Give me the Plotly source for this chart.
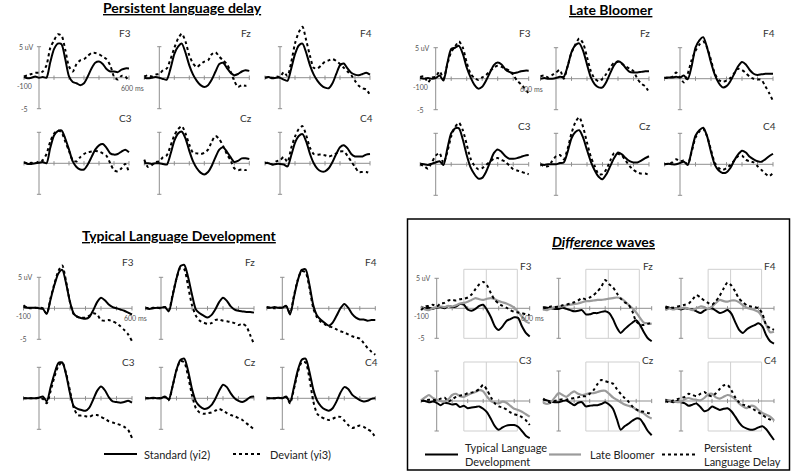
import plotly.graph_objects as go

W, H = 791, 472

# time grid in ms and electrode layout (2 rows x 3 cols)
TIME = list(range(-100, 601, 25))
ELECTRODES = ["F3", "Fz", "F4", "C3", "Cz", "C4"]

# Persistent language delay
pld_std = {
    "F3": [0.1, -0.1, 0.0, 0.2, 0.0, 0.1, 0.0, 2.5, 4.6, 5.5, 5.4, 3.0, 0.2, -0.7, -0.9, -1.2, -0.9, 0.2, 1.5, 2.4, 2.6, 2.2, 1.4, 1.0, 1.0, 0.9, 1.3, 1.5, 1.5],
    "Fz": [0, -0.1, 0, 0.1, 0, -0.2, -0.3, 1.5, 3.8, 5.0, 5.5, 4.0, 2.0, 0.5, -0.5, -1.2, -1.5, -1.2, -0.3, 1.0, 2.2, 2.4, 1.6, 0.8, 0.4, 0.6, 1.0, 1.2, 1.1],
    "F4": [0, 0.1, -0.1, 0, 0, -0.3, -0.5, 1.5, 3.8, 5.2, 5.5, 4.0, 2.0, 0.5, -0.5, -1.2, -1.6, -1.7, -0.9, 0.6, 2.0, 2.3, 1.5, 0.8, 0.5, 0.4, 0.6, 0.8, 0.5],
    "C3": [0.1, -0.1, -0.1, 0, 0.1, 0.2, 0, 2.5, 4.5, 5.2, 5.3, 4.0, 2.2, 0.3, -0.6, -1.0, -1.0, -0.2, 1.0, 2.2, 2.9, 3.1, 2.5, 1.6, 1.4, 1.5, 1.9, 2.2, 1.8],
    "Cz": [0, 0, -0.1, 0, 0, -0.1, -0.2, 1.5, 3.6, 4.8, 5.1, 4.0, 2.0, 0.3, -0.8, -1.5, -1.8, -1.4, -0.4, 1.0, 2.2, 2.6, 1.9, 1.0, 0.2, 0.4, 0.8, 0.8, 0.7],
    "C4": [0.1, 0, -0.2, -0.1, -0.1, -0.2, -0.5, 1.3, 3.3, 4.4, 4.7, 3.5, 1.5, 0, -0.9, -1.3, -1.3, -0.8, 0.2, 1.5, 2.6, 2.9, 2.4, 1.5, 1.1, 1.1, 1.1, 1.4, 1.5],
}
pld_dev = {
    "F3": [0.2, 0.4, 0.6, 0.8, 0.8, 1.0, 2.0, 4.8, 6.0, 7.0, 6.8, 4.5, 1.8, 1.0, 2.2, 2.8, 3.0, 3.5, 4.0, 4.0, 3.8, 3.4, 3.0, 2.0, 0.2, -0.3, 0.3, 0.2, -0.6],
    "Fz": [0.2, 0.4, 0.2, 0.5, 0.6, 1.2, 1.5, 3.0, 4.8, 6.3, 7.1, 5.8, 3.6, 2.3, 1.7, 2.2, 2.6, 2.8, 3.8, 4.1, 3.4, 2.8, 2.2, 1.0, -0.5, -1.5, -1.2, -1.3, -1.2],
    "F4": [0, 0.1, 0, 0.2, 0.1, 0.9, 0.3, 2.5, 5.5, 7.3, 8.2, 6.0, 3.5, 1.6, 1.5, 2.0, 2.6, 2.8, 3.0, 2.7, 2.2, 1.6, 1.0, 0.4, -0.5, -1.3, -1.7, -1.9, -2.8],
    "C3": [0.2, 0, 0.1, 0, 0.3, 0.5, 1.5, 3.5, 4.8, 5.3, 5.0, 3.5, 2.0, 0.5, 0.3, 1.0, 1.5, 1.8, 1.9, 2.0, 1.9, 1.6, 1.2, 0, -1.1, -1.3, -0.8, -0.1, -1.5],
    "Cz": [0.6, -0.6, -0.3, 0.2, 0.3, 1.0, 1.3, 2.8, 4.5, 5.5, 6.0, 4.8, 3.0, 1.7, 1.6, 1.5, 1.7, 2.2, 3.5, 4.4, 3.9, 2.8, 1.5, 0.5, -0.8, -1.1, -1.0, -1.1, -0.9],
    "C4": [0, 0.1, -0.2, 0.3, 0.5, 1.0, 0.2, 2.5, 4.3, 5.5, 6.0, 4.5, 2.5, 1.5, 1.4, 1.4, 1.3, 1.1, 1.3, 1.6, 1.9, 1.9, 1.2, 0.3, -0.6, -1.4, -1.4, -1.4, -1.6],
}

# Late bloomer
lb_std = {
    "F3": [0.1, 0, 0.1, 0, 0.1, 0.5, -0.3, 2.5, 4.8, 5.0, 5.3, 4.0, 1.8, 0.2, -1.0, -1.6, -1.3, -0.3, 1.0, 2.2, 2.6, 2.3, 1.5, 1.1, 0.9, 1.0, 1.2, 1.3, 1.3],
    "Fz": [0, 0.1, 0, 0, 0.1, 0.3, 0.3, 2.0, 4.3, 5.4, 5.7, 4.5, 2.3, 0.2, -0.9, -1.4, -1.4, -0.5, 0.9, 2.2, 2.8, 2.5, 1.7, 1.1, 1.0, 1.0, 1.1, 1.2, 1.2],
    "F4": [0.1, 0.2, 0.2, 0.3, 0.2, 0.5, -0.1, 2.0, 5.0, 6.2, 6.7, 5.0, 2.6, 0.6, -0.7, -1.4, -1.2, -0.4, 0.8, 2.0, 2.7, 2.3, 1.4, 0.8, 0.6, 0.7, 0.8, 0.8, 0.8],
    "C3": [0.1, 0, -0.1, 0.1, 0.3, 0.5, -0.1, 2.5, 5.0, 5.8, 5.8, 4.0, 1.5, -0.5, -1.6, -2.3, -2.2, -1.2, 0.3, 1.8, 2.4, 2.0, 1.3, 0.9, 0.9, 1.0, 1.2, 1.4, 1.5],
    "Cz": [0, -0.1, 0, 0, 0, 0.2, 0.3, 2.0, 4.2, 5.2, 5.5, 4.3, 2.3, 0.4, -1.0, -2.0, -2.4, -1.6, -0.3, 1.0, 1.9, 1.6, 1.0, 0.5, 0.3, 0.3, 0.6, 1.0, 1.3],
    "C4": [0, 0.1, 0, 0, 0.2, 0.4, -0.1, 2.2, 4.6, 5.5, 5.9, 4.5, 2.0, -0.1, -1.0, -1.4, -1.3, -0.6, 0.6, 1.6, 2.2, 1.9, 1.2, 0.8, 0.5, 0.4, 0.8, 1.3, 1.7],
}
lb_dev = {
    "F3": [0.3, 0.4, -0.6, 0.2, 0.3, 1.2, 0.0, 2.3, 4.3, 5.2, 6.0, 5.0, 2.6, 0.8, 0.1, -0.2, 0.2, 0.6, 1.2, 1.8, 2.1, 1.9, 1.6, 1.3, 0.6, -0.3, -0.9, -1.6, -2.4],
    "Fz": [0.4, 0.5, 0.2, 0.6, 1.0, 1.4, 0.0, 2.0, 4.2, 5.5, 6.5, 5.7, 3.5, 1.2, 0, -0.4, 0.0, 0.8, 1.8, 2.6, 2.7, 2.4, 2.0, 1.6, 1.2, 0.0, -0.8, -1.2, -2.2],
    "F4": [0.1, 0.2, 0.3, 1.0, 0.2, -0.6, 0.8, 3.0, 4.5, 5.5, 6.0, 5.0, 3.0, 0.8, -0.2, -0.5, -0.3, 0.1, 0.9, 1.6, 1.4, 0.9, 0.3, 0.0, -0.1, -0.2, -1.2, -2.3, -3.6],
    "C3": [0, -0.3, -0.7, 0.3, 1.4, 1.8, 0.2, 2.0, 4.5, 6.0, 6.7, 5.5, 3.2, 0.9, -0.2, -0.8, -0.6, -0.1, 0.4, 0.9, 1.0, 0.7, 0.4, -0.2, -0.8, -1.0, -1.2, -1.4, -1.6],
    "Cz": [0, -0.3, -0.3, 0.5, 1.3, 1.5, 0.8, 2.5, 5.0, 6.8, 7.6, 6.0, 3.5, 1.2, -0.3, -1.6, -1.6, -0.8, 0.6, 1.8, 1.7, 1.4, 0.6, -0.3, -0.9, -1.3, -1.5, -1.5, -1.7],
    "C4": [0, 0.1, 0.3, 0.8, 0.5, 0.6, 0.0, 2.0, 4.3, 5.3, 5.7, 4.5, 2.3, 0.2, -0.6, -0.9, -0.6, -0.1, 0.6, 1.3, 1.4, 0.7, 0.5, 0.3, -0.3, -0.9, -1.5, -1.9, -1.4],
}

# Typical language development
tld_std = {
    "F3": [0.2, 0.1, 0.1, 0.1, 0.0, -0.1, -0.9, 1.5, 3.8, 5.6, 6.2, 4.0, 1.0, -0.9, -1.4, -1.6, -1.7, -1.4, -0.3, 1.0, 1.7, 1.3, 0.6, 0.2, 0.0, -0.2, -0.4, -0.7, -1.0],
    "Fz": [0, -0.1, 0, 0.1, 0.1, 0.2, -0.5, 2.0, 4.8, 6.8, 7.0, 5.0, 2.2, -0.2, -0.8, -1.2, -1.5, -1.1, -0.2, 1.0, 1.7, 1.2, 0.3, -0.2, -0.4, -0.5, -0.6, -0.6, -0.7],
    "F4": [0.2, 0.1, 0.2, 0.1, 0.1, 0.4, -1.0, 1.8, 4.5, 6.2, 6.3, 3.8, 0.5, -1.2, -1.9, -2.4, -2.8, -2.3, -1.2, 0.0, 0.7, 0.1, -0.9, -1.5, -1.8, -1.8, -2.0, -1.9, -1.9],
    "C3": [0, 0, 0, 0, 0.1, 0.3, -0.5, 1.8, 4.0, 5.7, 5.8, 3.8, 0.8, -1.3, -1.7, -1.9, -2.0, -1.5, -0.2, 1.2, 1.9, 1.3, 0.2, -0.5, -0.6, -0.7, -0.6, -0.4, -0.7],
    "Cz": [0, 0, 0.1, 0, 0, 0.3, -0.2, 2.0, 4.6, 6.2, 6.4, 4.4, 1.5, -0.5, -1.3, -1.7, -1.6, -1.1, -0.1, 1.2, 2.2, 1.8, 0.8, 0.0, -0.4, -0.6, -0.3, 0.2, 0.3],
    "C4": [0, 0, 0, 0.1, 0, 0.3, -0.6, 1.8, 4.5, 6.2, 6.4, 4.3, 1.4, -0.4, -1.3, -1.8, -2.0, -1.6, -0.5, 0.9, 1.8, 1.5, 0.6, 0.1, -0.3, -0.5, -0.4, -0.1, 0.0],
}
tld_dev = {
    "F3": [0.5, 0.1, 0.0, 0.1, 0.1, 0.0, -0.9, 1.7, 4.0, 6.0, 6.9, 4.3, 1.0, -1.0, -1.4, -1.5, -1.5, -1.2, -0.8, -1.0, -1.9, -2.0, -1.9, -2.1, -2.4, -2.9, -3.5, -4.2, -5.3],
    "Fz": [0.1, 0, 0.1, 0.1, 0.0, 0.2, -0.3, 2.2, 4.8, 6.5, 6.3, 3.5, 0.5, -1.2, -2.0, -2.3, -2.5, -2.4, -1.9, -1.8, -2.0, -2.1, -2.2, -2.4, -2.7, -2.5, -2.9, -4.3, -5.8],
    "F4": [0.1, 0.1, 0.0, 0.1, 0.1, 0.3, -0.8, 2.0, 4.6, 6.0, 5.8, 3.3, 0.0, -1.5, -2.2, -2.6, -2.9, -3.1, -3.4, -3.7, -3.9, -4.2, -4.5, -4.7, -4.9, -5.6, -6.4, -7.0, -7.5],
    "C3": [0, 0, 0, 0, 0.1, -0.1, -0.8, 1.2, 3.5, 5.2, 5.8, 4.0, 1.2, -1.6, -2.7, -2.8, -2.9, -3.0, -2.7, -2.7, -3.0, -3.3, -3.7, -3.9, -4.1, -4.3, -4.6, -5.1, -6.4],
    "Cz": [0, 0, 0, 0, 0.1, 0.2, -0.3, 2.0, 4.5, 6.0, 5.8, 3.5, 0.5, -1.6, -2.3, -2.5, -2.4, -2.3, -2.0, -1.7, -2.0, -2.4, -2.7, -2.9, -3.2, -3.5, -4.0, -4.5, -5.0],
    "C4": [0, 0, 0, 0, 0.1, 0.2, -0.8, 1.5, 4.2, 5.8, 5.8, 3.2, -0.5, -2.5, -3.0, -3.3, -3.5, -3.3, -3.0, -3.0, -3.6, -4.3, -4.8, -4.6, -4.4, -4.6, -5.0, -5.4, -6.3],
}

# Difference waves (deviant - standard) per group
diff_tld = {
    "F3": [0.3, 0, 0.1, -0.1, 0.1, 0.2, 0.0, 0.4, 0.2, 0.3, 0.7, 0.6, -0.2, -0.4, -0.1, 0.4, 0.6, -0.3, -1.5, -3.0, -3.6, -3.0, -2.1, -1.8, -1.5, -1.6, -3.0, -4.1, -4.7],
    "Fz": [0.2, 0.1, 0.0, -0.1, -0.1, 0.1, -0.1, -0.3, -0.5, -0.4, -0.3, -1.0, -1.0, -0.8, -0.8, -0.6, -0.5, -0.8, -1.8, -3.2, -4.1, -3.5, -2.9, -2.4, -2.0, -2.8, -4.0, -5.0, -5.5],
    "F4": [0.3, 0.1, -0.1, 0.0, -0.2, 0.0, -0.1, -0.2, -0.5, -0.8, -0.4, -0.1, 0.0, -0.4, -0.8, -0.6, -0.3, -0.9, -2.3, -3.6, -4.1, -3.5, -3.1, -2.8, -2.5, -3.0, -4.5, -5.5, -5.9],
    "C3": [0.1, 0.0, -0.2, -0.1, -0.3, -0.7, -0.3, -0.4, -0.6, -0.5, -1.0, -0.8, -1.2, -1.1, -1.0, -0.9, -1.3, -1.9, -3.0, -4.2, -4.8, -4.4, -4.1, -4.0, -4.0, -4.3, -5.0, -5.8, -6.2],
    "Cz": [0.2, 0.1, -0.1, -0.2, -0.2, 0.0, 0.1, -0.3, -0.7, -0.3, -0.2, -0.9, -0.8, -0.7, -0.7, -0.5, -0.2, -0.6, -1.3, -3.0, -4.8, -4.2, -3.8, -3.3, -2.9, -3.0, -3.9, -5.0, -5.7],
    "C4": [0.2, 0.0, -0.2, 0.0, -0.2, -0.4, -0.8, -0.6, -0.4, -1.0, -1.7, -1.5, -0.9, -1.2, -1.5, -1.3, -1.2, -1.7, -2.6, -3.6, -4.3, -4.6, -4.8, -4.7, -4.4, -4.2, -4.7, -5.6, -6.5],
}
diff_lb = {
    "F3": [0.3, -0.2, -0.3, 0, 0.2, 0.3, 0.2, 0.4, 0.3, 0.5, 0.8, 0.9, 1.1, 1.4, 1.7, 1.5, 1.4, 1.6, 1.7, 1.5, 1.2, 1.0, 0.8, 0.5, 0.1, -0.6, -1.4, -2.2, -2.5],
    "Fz": [-0.2, -0.3, 0.0, 0.2, 0.3, 0.3, 0.5, 0.6, 0.7, 0.8, 1.0, 1.2, 1.2, 1.3, 1.4, 1.4, 1.5, 1.6, 1.7, 1.8, 1.7, 1.2, 0.6, 0.0, -0.7, -1.6, -2.4, -2.5, -2.6],
    "F4": [-0.3, 0.0, -0.2, 0.0, 0.0, 0.1, -0.1, -0.3, 0.0, 0.3, 0.2, -0.1, 0.3, 0.9, 1.4, 1.2, 1.1, 1.3, 1.3, 1.0, 0.5, 0.1, -0.1, -0.3, -0.6, -1.5, -2.8, -4.0, -3.9],
    "C3": [0.1, 0.6, 1.0, 0.5, 0.2, 0.0, -0.1, 0.3, 1.0, 1.2, 0.8, 0.7, 1.0, 1.3, 1.5, 1.8, 1.6, 0.7, 0.0, -0.3, -0.4, -0.1, -0.3, -0.8, -1.3, -1.5, -1.8, -2.2, -2.6],
    "Cz": [-0.3, -0.5, -0.2, 0.6, 1.3, 1.0, 0.7, 1.2, 1.6, 1.2, 1.0, 1.1, 1.3, 1.3, 1.5, 1.7, 1.7, 1.2, 0.6, 0.2, -0.2, -0.6, -0.8, -1.0, -1.4, -1.8, -2.1, -2.6, -2.9],
    "C4": [0.0, 0.1, 0.0, -0.2, -0.1, 0.3, 0.5, 0.3, 0.2, 0.1, 0.5, 1.1, 1.2, 0.6, 0.4, 0.7, 1.0, 0.8, 0.3, -0.4, -0.9, -1.2, -0.8, -0.9, -1.5, -2.0, -2.3, -2.6, -3.2],
}
diff_pld = {
    "F3": [-0.3, 0.3, 0.4, 0.6, 0.3, 0.8, 0.9, 1.3, 1.4, 1.3, 1.5, 1.6, 1.8, 2.3, 3.2, 4.0, 4.4, 3.8, 2.5, 1.4, 0.8, 0.4, 0.1, -0.3, -0.6, -0.7, -0.8, -1.0, -1.1],
    "Fz": [0, 0.1, 0.3, 0.2, 0.3, 0.5, 0.6, 0.8, 1.0, 1.3, 1.7, 1.5, 1.8, 2.2, 2.8, 3.6, 4.7, 4.0, 3.5, 2.5, 1.6, 1.0, 0.6, -0.5, -2.2, -2.7, -2.8, -2.6, -2.4],
    "F4": [0.0, 0.2, 0.1, 0.3, 0.4, 0.6, 0.8, 1.5, 2.2, 1.8, 1.3, 0.9, 0.6, 1.2, 2.1, 3.3, 4.3, 3.8, 2.8, 1.6, 1.0, 0.5, 0.3, 0.2, 0.0, -0.9, -2.8, -3.3, -3.6],
    "C3": [0.0, 0.1, 0.2, 0.2, 0.1, 0.4, 0.6, -0.1, 0.3, 0.7, 0.9, 1.0, 1.3, 1.4, 1.6, 2.0, 2.7, 1.8, 0.6, -0.4, -0.9, -1.1, -1.4, -1.9, -2.2, -2.4, -2.7, -3.2, -4.0],
    "Cz": [0.4, 0.0, -0.3, 0.0, 0.2, 0.3, 0.2, 0.4, 0.5, 0.6, 0.8, 0.8, 1.2, 1.8, 2.8, 3.5, 3.3, 3.1, 2.9, 2.0, 1.2, 0.5, -0.1, -0.9, -1.4, -1.7, -1.8, -2.0, -2.1],
    "C4": [0.0, -0.2, 0.1, 0.3, 0.5, 0.7, 1.2, 1.0, 0.8, 1.2, 1.5, 1.0, 0.8, 1.3, 2.0, 2.6, 2.7, 1.8, 0.6, -0.2, -0.6, -0.8, -1.1, -1.5, -1.9, -2.3, -2.8, -3.1, -3.4],
}

FONT = "Lato"
AXIS_GREY = "#8f8f8f"
X_LO, X_HI = -120, 625
Y_LO, Y_HI = -9, 10

SOLID = dict(color="black", width=2, dash="solid")
DOTTED = dict(color="black", width=2, dash="dot")
GREY = dict(color="#9b9b9b", width=2.2, dash="solid")

# pixel positions of the origins of each small plot
panels = [
    dict(title="<b><u>Persistent language delay</u></b>", tx=182, ty=8,
         cols=[39, 159.3, 280], rows=[77.7, 163.3], sx=0.15, sy=6.2, label_y=[7.2, 7.3],
         series=[(pld_std, SOLID), (pld_dev, DOTTED)], windows=False),
    dict(title="<b><u>Late Bloomer</u></b>", tx=611, ty=10,
         cols=[435.7, 556, 680], rows=[78.7, 164.3], sx=0.155, sy=6.2, label_y=[7.3, 6.1],
         series=[(lb_std, SOLID), (lb_dev, DOTTED)], windows=False),
    dict(title="<b><u>Typical Language Development</u></b>", tx=179, ty=235,
         cols=[39, 161, 282.3], rows=[308.3, 398.3], sx=0.155, sy=6.2, label_y=[7.5, 5.9],
         series=[(tld_std, SOLID), (tld_dev, DOTTED)], windows=False),
    dict(title="<b><u><i>Difference</i> waves</u></b>", tx=603, ty=242,
         cols=[436.7, 558.7, 681], rows=[308.3, 401], sx=0.155, sy=6.0, label_y=[7.1, 6.9],
         series=[(diff_tld, SOLID), (diff_lb, GREY), (diff_pld, DOTTED)], windows=True),
]

fig = go.Figure()
layout = {}
shapes = []
annotations = []
n = 0

for p in panels:
    annotations.append(dict(text=p["title"], x=p["tx"] / W, y=1 - p["ty"] / H, xref="paper", yref="paper",
                            showarrow=False, font=dict(family=FONT, size=14, color="black"),
                            xanchor="center", yanchor="middle"))
    for i, el in enumerate(ELECTRODES):
        n += 1
        ox = p["cols"][i % 3]
        oy = p["rows"][i // 3]
        xa = "x" if n == 1 else f"x{n}"
        ya = "y" if n == 1 else f"y{n}"
        layout["xaxis" if n == 1 else f"xaxis{n}"] = dict(
            domain=[(ox + X_LO * p["sx"]) / W, (ox + X_HI * p["sx"]) / W],
            range=[X_LO, X_HI], visible=False, anchor=ya)
        layout["yaxis" if n == 1 else f"yaxis{n}"] = dict(
            domain=[1 - (oy - Y_LO * p["sy"]) / H, 1 - (oy - Y_HI * p["sy"]) / H],
            range=[Y_LO, Y_HI], visible=False, anchor=xa)

        if p["windows"]:
            shapes.append(dict(type="rect", xref=xa, yref=ya, x0=175, x1=520, y0=-5, y1=6.5,
                               line=dict(color="#cfcfcf", width=1), layer="below"))
            shapes.append(dict(type="line", xref=xa, yref=ya, x0=320, x1=320, y0=-5, y1=6.5,
                               line=dict(color="#cfcfcf", width=1), layer="below"))

        # crossing axes
        shapes.append(dict(type="line", xref=xa, yref=ya, x0=-100, x1=600, y0=0, y1=0,
                           line=dict(color=AXIS_GREY, width=1), layer="below"))
        shapes.append(dict(type="line", xref=xa, yref=ya, x0=0, x1=0, y0=-5, y1=5,
                           line=dict(color=AXIS_GREY, width=1), layer="below"))
        for t in [-100, 100, 200, 300, 400, 500, 600]:
            shapes.append(dict(type="line", xref=xa, yref=ya, x0=t, x1=t, y0=-0.35, y1=0.35,
                               line=dict(color=AXIS_GREY, width=1), layer="below"))
        for v in [-5, 5]:
            shapes.append(dict(type="line", xref=xa, yref=ya, x0=-14, x1=14, y0=v, y1=v,
                               line=dict(color=AXIS_GREY, width=1), layer="below"))

        for data, style in p["series"]:
            fig.add_trace(go.Scatter(
                x=TIME, y=data[el], xaxis=xa, yaxis=ya, mode="lines",
                line=dict(color=style["color"], width=style["width"], dash=style["dash"],
                          shape="spline", smoothing=0.7),
                hoverinfo="skip", showlegend=False))

        annotations.append(dict(text=el, x=575, y=p["label_y"][i // 3], xref=xa, yref=ya,
                                showarrow=False, font=dict(family=FONT, size=10, color="#333333"),
                                xanchor="center", yanchor="middle"))
        if el == "F3":
            small = dict(family=FONT, size=7, color="#555555")
            annotations += [
                dict(text="5 uV", x=-30, y=5, xref=xa, yref=ya, showarrow=False, font=small,
                     xanchor="right", yanchor="middle"),
                dict(text="-100", x=-100, y=-1.3, xref=xa, yref=ya, showarrow=False, font=small,
                     xanchor="center", yanchor="middle"),
                dict(text="-5", x=-100, y=-5, xref=xa, yref=ya, showarrow=False, font=small,
                     xanchor="center", yanchor="middle"),
                dict(text="600 ms", x=620, y=-1.6, xref=xa, yref=ya, showarrow=False, font=small,
                     xanchor="center", yanchor="middle"),
            ]

# box around the difference-wave panel
shapes.append(dict(type="rect", xref="paper", yref="paper", x0=407.5 / W, x1=789.5 / W,
                   y0=1 - 470 / H, y1=1 - 219 / H, line=dict(color="black", width=1.5)))

# legends drawn by hand
leg_font = dict(family=FONT, size=11, color="#222222")
legend_items = [
    (104, 137, 454, SOLID, "Standard (yi2)", 142),
    (233, 263, 454, DOTTED, "Deviant (yi3)", 268),
    (425, 458, 454.5, SOLID, "Typical Language<br>Development", 463),
    (549, 581, 454.5, GREY, "Late Bloomer", 588),
    (662, 697, 454.5, DOTTED, "Persistent<br>Language Delay", 702),
]
for x0, x1, yy, style, label, tx in legend_items:
    shapes.append(dict(type="line", xref="paper", yref="paper", x0=x0 / W, x1=x1 / W,
                       y0=1 - yy / H, y1=1 - yy / H,
                       line=dict(color=style["color"], width=style["width"], dash=style["dash"])))
    annotations.append(dict(text=label, x=tx / W, y=1 - yy / H, xref="paper", yref="paper",
                            showarrow=False, font=leg_font, xanchor="left", yanchor="middle",
                            align="left"))

fig.update_layout(
    width=W, height=H,
    margin=dict(l=0, r=0, t=0, b=0),
    paper_bgcolor="white", plot_bgcolor="rgba(0,0,0,0)",
    showlegend=False,
    shapes=shapes, annotations=annotations,
    **layout,
)

# drop the default page margin so the figure sits at the window's top-left
fig.write_html("out.html", config={"displayModeBar": False},
               post_script="document.body.style.margin='0';document.body.style.overflow='hidden';")
